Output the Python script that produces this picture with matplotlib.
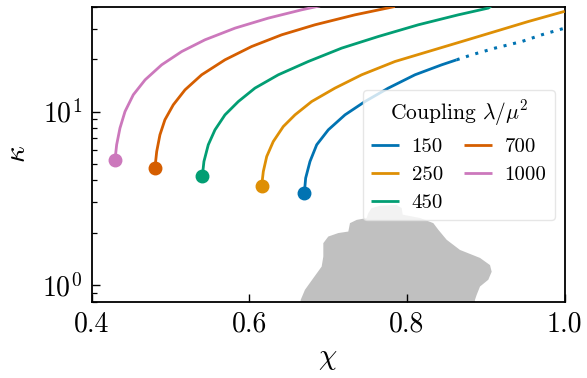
import matplotlib
matplotlib.use("Agg")
import matplotlib.pyplot as plt
from matplotlib.ticker import LogLocator

plt.rcParams["font.family"] = "cmr10"
plt.rcParams["mathtext.fontset"] = "cm"
plt.rcParams["axes.formatter.use_mathtext"] = True
plt.rcParams["axes.unicode_minus"] = False

# Coupling values and their colours
couplings = ["150", "250", "450", "700", "1000"]
colors = ["#0173b2", "#de8f05", "#029e73", "#d55e00", "#cc78bc"]

# Branches kappa(chi) for each coupling; the first point is the branch endpoint
chi_150 = [0.6698, 0.6715, 0.6770, 0.6855, 0.7002, 0.7214, 0.7467, 0.7763, 0.8101, 0.8440, 0.8630]
kap_150 = [3.38, 4.13, 5.15, 6.43, 7.84, 9.57, 11.42, 13.65, 16.29, 18.60, 19.88]
# continuation of the 150 branch (dotted)
chi_150_ext = [0.8630, 0.8821, 0.9116, 0.9455, 0.9708, 1.0]
kap_150_ext = [19.88, 21.24, 23.22, 25.34, 27.71, 30.28]

chi_250 = [0.6157, 0.6178, 0.6221, 0.6304, 0.6431, 0.6580, 0.6791, 0.7087, 0.7425,
           0.7848, 0.8270, 0.8694, 0.9116, 0.9538, 1.0]
kap_250 = [3.73, 4.51, 5.50, 6.71, 8.19, 9.57, 11.42, 13.65, 16.29,
           19.44, 22.19, 25.34, 28.94, 33.06, 37.86]

chi_450 = [0.5404, 0.5425, 0.5480, 0.5565, 0.5692, 0.5861, 0.6072, 0.6368, 0.6748,
           0.7172, 0.7636, 0.8143, 0.8651, 0.9031, 0.9065]
kap_450 = [4.22, 5.15, 6.43, 7.84, 9.57, 11.42, 13.65, 16.29, 19.44,
           23.22, 27.09, 31.65, 36.14, 39.52, 40.5]

chi_700 = [0.4804, 0.4826, 0.4867, 0.4930, 0.5036, 0.5185, 0.5396, 0.5692, 0.6030,
           0.6411, 0.6833, 0.7341, 0.7846]
kap_700 = [4.75, 5.88, 7.34, 8.96, 10.93, 13.34, 16.29, 19.88, 23.72,
           27.71, 31.65, 36.14, 40.36]

chi_1000 = [0.4297, 0.4318, 0.4360, 0.4424, 0.4529, 0.4679, 0.4889, 0.5143, 0.5438,
            0.5819, 0.6241, 0.6665, 0.6897]
kap_1000 = [5.26, 6.43, 8.02, 10.0, 12.49, 15.24, 18.60, 22.19, 25.93,
            30.28, 34.59, 38.63, 40.7]

branches = [
    (chi_150, kap_150),
    (chi_250, kap_250),
    (chi_450, kap_450),
    (chi_700, kap_700),
    (chi_1000, kap_1000),
]

# Excluded region (grey patch)
region_chi = [0.6652, 0.6652, 0.6706, 0.6812, 0.6918, 0.6939, 0.6939, 0.7002, 0.7129,
              0.7256, 0.7277, 0.7362, 0.7489, 0.7509, 0.7552, 0.7658, 0.7869, 0.7933,
              0.7945, 0.8165, 0.8334, 0.8397, 0.8503, 0.8672, 0.8926, 0.9053, 0.9074,
              0.9031, 0.8926, 0.8884, 0.8862, 0.8862]
region_kap = [0.70, 0.819, 0.936, 1.093, 1.275, 1.457, 1.74, 1.90, 1.99,
              2.03, 2.27, 2.37, 2.43, 2.59, 2.77, 2.86, 2.89, 2.77,
              2.54, 2.43, 2.27, 2.08, 1.82, 1.59, 1.43, 1.30, 1.19,
              1.07, 0.978, 0.876, 0.819, 0.70]

fig = plt.figure(figsize=(5.87, 3.78), dpi=100)
ax = fig.add_axes([0.156, 0.202, 0.806, 0.779])

ax.fill(region_chi, region_kap, color="#c0c0c0", lw=0, zorder=1)

for (chi, kap), c, lab in zip(branches, colors, couplings):
    ax.plot(chi, kap, color=c, lw=2.0, label=lab, zorder=3,
            solid_capstyle="butt", solid_joinstyle="round")
    ax.plot(chi[0], kap[0], "o", color=c, ms=9, mec=c, zorder=4)

ax.plot(chi_150_ext, kap_150_ext, color=colors[0], lw=2.2,
        linestyle=(0, (1, 2.2)), zorder=3)

ax.set_yscale("log")
ax.set_xlim(0.4, 1.0)
ax.set_ylim(0.8, 40)
ax.set_xticks([0.4, 0.6, 0.8, 1.0])
ax.set_xticklabels(["0.4", "0.6", "0.8", "1.0"])
ax.yaxis.set_major_locator(LogLocator(base=10, numticks=10))
ax.yaxis.set_minor_locator(LogLocator(base=10, subs=range(2, 10), numticks=10))

ax.tick_params(axis="both", which="major", direction="in", length=6, width=1.0,
               labelsize=20, pad=7)
ax.tick_params(axis="both", which="minor", direction="in", length=3.5, width=0.9)
ax.tick_params(top=False, right=False, which="both")
for s in ax.spines.values():
    s.set_linewidth(1.3)

ax.set_xlabel(r"$\chi$", fontsize=21, labelpad=6)
ax.set_ylabel(r"$\kappa$", fontsize=21, labelpad=8)

leg = ax.legend(title=r"Coupling $\lambda/\mu^2$", ncol=2, fontsize=15,
                title_fontsize=15.5, loc="upper right",
                bbox_to_anchor=(0.979, 0.719), borderaxespad=0,
                handlelength=1.35, handletextpad=0.6, columnspacing=1.0,
                labelspacing=0.45, borderpad=0.4, framealpha=0.8, fancybox=True)
leg.get_frame().set_edgecolor("#e0e0e0")
leg.set_zorder(5)

fig.savefig("out.png", dpi=100)
